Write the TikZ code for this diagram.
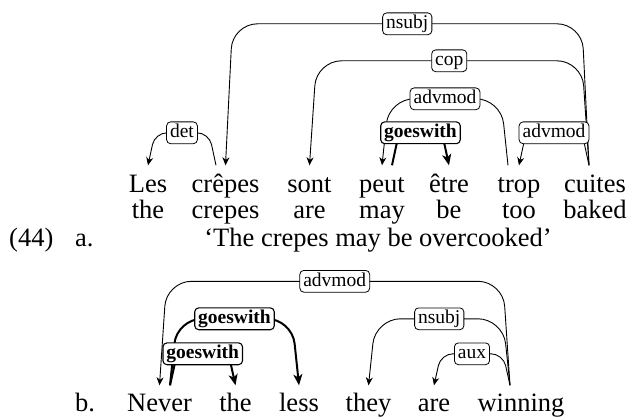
\documentclass[tikz,border=0pt]{standalone}
\usepackage{fontspec}
\setmainfont{Liberation Serif}
\usetikzlibrary{arrows.meta,calc}
\newcommand\mainsz{\fontsize{26.5pt}{26.5pt}\selectfont}
\newcommand\lblsz{\fontsize{19.5pt}{19.5pt}\selectfont}
% #1 line style, #2 head point, #3 head slant, #4 dependent node, #5 dependent slant,
% #6 height, #7 corner radius, #8 label style, #9 label
\newcommand\depedge[9]{%
  \draw[#1,rounded corners=#7pt] #2 -- ++(#3,-#6) -- node[#8]{#9} ($(#4.north)+(#5,-#6)$) -- (#4.north);%
}
\tikzset{
  word/.style={anchor=base,inner sep=0pt,text height=27pt,text depth=0pt,font=\mainsz},
  wordb/.style={word,text height=26pt},
  gloss/.style={anchor=base,inner sep=0pt,font=\mainsz},
  depline/.style={line width=0.9pt,-{Stealth[length=8pt,width=7pt,inset=2.5pt]}},
  thickdep/.style={line width=2pt,-{Stealth[length=11pt,width=9pt,inset=3pt]}},
  lbl/.style={draw,line width=0.8pt,fill=white,rounded corners=4pt,inner xsep=3.5pt,inner ysep=1.8pt,
    text height=13.8pt,text depth=4.4pt,font=\lblsz},
  boldlbl/.style={lbl,line width=1.1pt,font=\lblsz\bfseries},
}
\begin{document}
\begin{tikzpicture}[x=1pt,y=-1pt]
\useasboundingbox (0,0) rectangle (635,417);
% ---- example a ----
\node[word] (les) at (148,192.5) {Les};
\node[word] (crepes) at (225.5,192.5) {crêpes};
\node[word] (sont) at (309.5,192.5) {sont};
\node[word] (peut) at (382,192.5) {peut};
\node[word] (etre) at (449,192.5) {être};
\node[word] (trop) at (519,192.5) {trop};
\node[word] (cuites) at (595,192.5) {cuites};
\node[gloss] (g1) at (148,218.5) {the};
\node[gloss] (g2) at (225.5,218.5) {crepes};
\node[gloss] (g3) at (309.5,218.5) {are};
\node[gloss] (g4) at (382,218.5) {may};
\node[gloss] (g5) at (449,218.5) {be};
\node[gloss] (g6) at (519,218.5) {too};
\node[gloss] (g7) at (595,218.5) {baked};
\node[gloss,anchor=base west] (num) at (9,246) {(44)};
\node[gloss,anchor=base west] (la) at (75,246) {a.};
\node[gloss] (trans) at (378,246) {‘The crepes may be overcooked’};
\depedge{depline}{([xshift=-6pt]cuites.north)}{-7}{crepes}{7}{141.5}{25}{lbl}{nsubj}
\depedge{depline}{([xshift=-6pt]cuites.north)}{-7}{sont}{7}{104.5}{25}{lbl}{cop}
\depedge{depline}{([xshift=-11pt]trop.north)}{-7}{peut}{7}{66.5}{25}{lbl}{advmod}
\depedge{thickdep}{([xshift=10pt]peut.north)}{7}{etre}{-7}{32.5}{12}{boldlbl}{goeswith}
\depedge{depline}{([xshift=-6pt]cuites.north)}{-7}{trop}{7}{32.5}{12}{lbl}{advmod}
\depedge{depline}{([xshift=-9.5pt]crepes.north)}{-7}{les}{7}{32.5}{12}{lbl}{det}
% ---- example b ----
\node[gloss,anchor=base west] (lb) at (75,411.5) {b.};
\node[wordb] (never) at (159.5,411.5) {Never};
\node[wordb] (the) at (235.5,411.5) {the};
\node[wordb] (less) at (299,411.5) {less};
\node[wordb] (they) at (368.5,411.5) {they};
\node[wordb] (are) at (434,411.5) {are};
\node[wordb] (winning) at (521,411.5) {winning};
\depedge{depline}{([xshift=-11pt]winning.north)}{-7}{never}{7}{104}{25}{lbl}{advmod}
\depedge{thickdep}{([xshift=10.5pt]never.north)}{7}{less}{-7}{66.5}{25}{boldlbl}{goeswith}
\depedge{depline}{([xshift=-11pt]winning.north)}{-7}{they}{7}{66.5}{25}{lbl}{nsubj}
\depedge{thickdep}{([xshift=10.5pt]never.north)}{7}{the}{-7}{31.5}{12}{boldlbl}{goeswith}
\depedge{depline}{([xshift=-11pt]winning.north)}{-7}{are}{7}{31.5}{12}{lbl}{aux}
\end{tikzpicture}
\end{document}
